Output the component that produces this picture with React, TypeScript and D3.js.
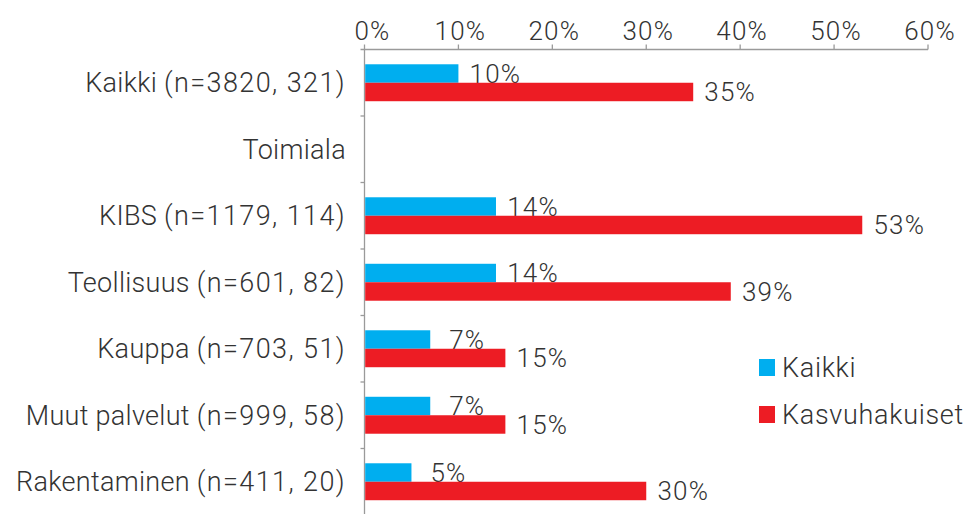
import React, { useEffect, useRef } from "react";
import * as d3 from "d3";

const categoryNames = [
  "Kaikki",
  "Toimiala",
  "KIBS",
  "Teollisuus",
  "Kauppa",
  "Muut palvelut",
  "Rakentaminen",
];
const categoryCounts = [
  "(n=3820, 321)",
  "",
  "(n=1179, 114)",
  "(n=601, 82)",
  "(n=703, 51)",
  "(n=999, 58)",
  "(n=411, 20)",
];
const seriesNames = ["Kaikki", "Kasvuhakuiset"];
const kaikkiValues: (number | null)[] = [10, null, 14, 14, 7, 7, 5];
const kasvuValues: (number | null)[] = [35, null, 53, 39, 15, 15, 30];
const xTicks = [0, 10, 20, 30, 40, 50, 60];
const colors = ["#00aeef", "#ed1c24"];

const W = 967;
const H = 514;
const FONT = "Roboto, 'Liberation Sans', Arial, sans-serif";
const TEXT = "#333333";
const AXIS = "#9a9a9a";

export default function App() {
  const ref = useRef<SVGSVGElement | null>(null);

  useEffect(() => {
    document.body.style.margin = "0";
    const svg = d3.select(ref.current);
    svg.selectAll("*").remove();

    const categories = categoryNames.map((n, i) => `${i}|${n}`);

    const x0 = 364.5;
    const x1 = 928;
    const yTop = 49.5;
    const step = 66.5;
    const x = d3.scaleLinear().domain([0, 60]).range([x0, x1]);
    const y = d3
      .scaleBand<string>()
      .domain(categories)
      .range([yTop, yTop + step * categories.length])
      .padding(0);
    const ySub = d3
      .scaleBand<string>()
      .domain(seriesNames)
      .range([0, y.bandwidth()])
      .paddingInner(0)
      .paddingOuter(0.8);

    const series = [kaikkiValues, kasvuValues];

    // top axis
    const gx = svg.append("g").attr("transform", `translate(0,${yTop})`);
    gx.append("line")
      .attr("x1", x0 - 4)
      .attr("x2", x1)
      .attr("y1", 0)
      .attr("y2", 0)
      .attr("stroke", AXIS)
      .attr("stroke-width", 1.3);
    gx.selectAll("line.tick")
      .data(xTicks)
      .join("line")
      .attr("class", "tick")
      .attr("x1", (d) => x(d))
      .attr("x2", (d) => x(d))
      .attr("y1", -5)
      .attr("y2", 0)
      .attr("stroke", AXIS)
      .attr("stroke-width", 1.3);
    gx.selectAll("text")
      .data(xTicks)
      .join("text")
      .attr("x", (d) => x(d) + (d === 0 ? 8 : 2))
      .attr("y", -10)
      .attr("text-anchor", "middle")
      .attr("font-family", FONT)
      .attr("font-weight", 300)
      .attr("font-size", 26)
      .attr("letter-spacing", 1.2)
      .attr("fill", TEXT)
      .text((d) => `${d}%`);

    // left axis
    svg
      .append("line")
      .attr("x1", x0)
      .attr("x2", x0)
      .attr("y1", yTop)
      .attr("y2", H)
      .attr("stroke", AXIS)
      .attr("stroke-width", 1.3);
    const bounds = categories.map((c) => (y(c) as number) + y.bandwidth());
    svg
      .selectAll("line.ytick")
      .data(bounds)
      .join("line")
      .attr("class", "ytick")
      .attr("x1", x0 - 4)
      .attr("x2", x0)
      .attr("y1", (d) => d)
      .attr("y2", (d) => d)
      .attr("stroke", AXIS)
      .attr("stroke-width", 1.3);

    const cat = svg
      .selectAll("text.cat")
      .data(categories)
      .join("text")
      .attr("class", "cat")
      .attr("x", 346)
      .attr("y", (d) => (y(d) as number) + y.bandwidth() / 2)
      .attr("dy", "0.36em")
      .attr("text-anchor", "end")
      .attr("font-family", FONT)
      .attr("font-weight", 300)
      .attr("font-size", 27)
      .attr("fill", TEXT);
    cat.each(function (d, i) {
      const t = d3.select(this);
      const cnt = categoryCounts[i];
      t.append("tspan")
        .attr("letter-spacing", 0.3)
        .text(categoryNames[i] + (cnt ? " " : ""));
      if (cnt) {
        t.append("tspan").attr("letter-spacing", 1.4).text(cnt);
      }
    });

    // bars
    series.forEach((vals, si) => {
      const g = svg.append("g");
      const rows = categories
        .map((c, i) => ({ c, v: vals[i] }))
        .filter((r) => r.v !== null) as { c: string; v: number }[];
      g.selectAll("rect")
        .data(rows)
        .join("rect")
        .attr("x", x0 + 0.7)
        .attr("y", (d) => (y(d.c) as number) + (ySub(seriesNames[si]) as number))
        .attr("width", (d) => x(d.v) - x0 - 0.7)
        .attr("height", ySub.bandwidth())
        .attr("fill", colors[si]);
      g.selectAll("text")
        .data(rows)
        .join("text")
        .attr("x", (d) => x(d.v) + 37)
        .attr(
          "y",
          (d) =>
            (y(d.c) as number) +
            (ySub(seriesNames[si]) as number) +
            ySub.bandwidth() / 2
        )
        .attr("dy", "0.36em")
        .attr("text-anchor", "middle")
        .attr("font-family", FONT)
        .attr("font-weight", 300)
        .attr("font-size", 26)
        .attr("letter-spacing", 1.2)
        .attr("fill", TEXT)
        .text((d) => `${d.v}%`);
    });

    // legend
    const lg = svg.append("g").attr("transform", "translate(759,359)");
    seriesNames.forEach((name, i) => {
      const row = lg.append("g").attr("transform", `translate(0,${i * 47})`);
      row.append("rect")
        .attr("width", 16)
        .attr("height", 17)
        .attr("fill", colors[i]);
      row.append("text")
        .attr("x", 23)
        .attr("y", 8.5)
        .attr("dy", "0.36em")
        .attr("font-family", FONT)
        .attr("font-weight", 300)
        .attr("font-size", 27)
        .attr("letter-spacing", 0.7)
        .attr("fill", TEXT)
        .text(name);
    });
  }, []);

  return (
    <svg
      ref={ref}
      width={W}
      height={H}
      style={{ display: "block", background: "#fff" }}
    />
  );
}
